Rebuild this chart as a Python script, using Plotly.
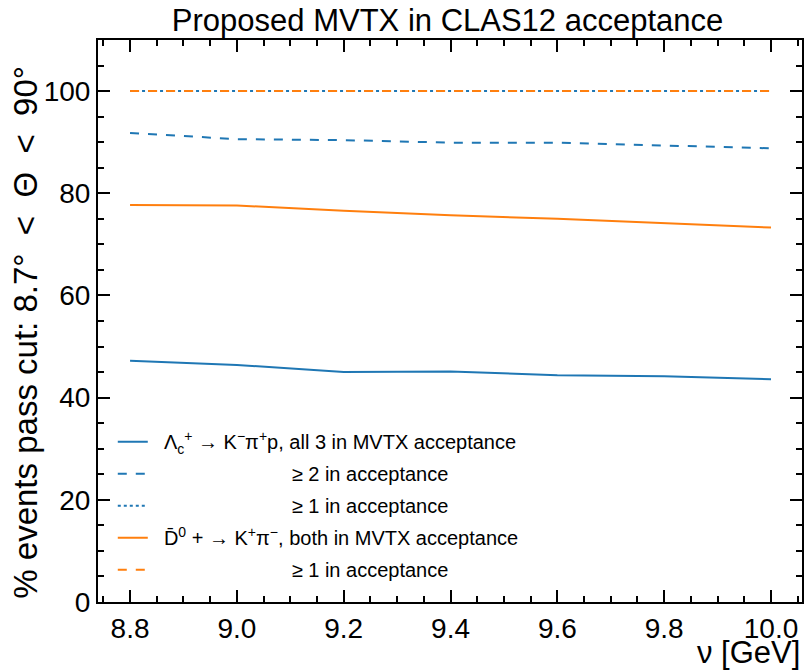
import plotly.graph_objects as go

nu = [8.8, 9.0, 9.2, 9.4, 9.6, 9.8, 10.0]
lc_all3 = [47.2, 46.4, 45.0, 45.1, 44.4, 44.2, 43.6]
lc_ge2 = [91.8, 90.6, 90.4, 89.9, 89.9, 89.4, 88.8]
lc_ge1 = [100.0, 100.0, 100.0, 100.0, 100.0, 100.0, 100.0]
d0_both = [77.7, 77.6, 76.6, 75.7, 75.0, 74.2, 73.3]
d0_ge1 = [100.0, 100.0, 100.0, 100.0, 100.0, 100.0, 100.0]

BLUE = "#1f77b4"
ORANGE = "#ff7f0e"
FONT = "Liberation Sans"
NB = "\u00a0"
lead = NB * 2
pad = NB * 25

names = [
    lead + "Λ<sub>c</sub><sup>+</sup> → K<sup>−</sup>π<sup>+</sup>p, all 3 in MVTX acceptance",
    pad + "≥ 2 in acceptance",
    pad + "≥ 1 in acceptance",
    lead + "D̄<sup>0</sup> + → K<sup>+</sup>π<sup>−</sup>, both in MVTX acceptance",
    pad + "≥ 1 in acceptance",
]
series = [lc_all3, lc_ge2, lc_ge1, d0_both, d0_ge1]
colors = [BLUE, BLUE, BLUE, ORANGE, ORANGE]
dashes = ["solid", "dash", "dot", "solid", "dash"]

fig = go.Figure()
for i, (nm, ys, c, d) in enumerate(zip(names, series, colors, dashes)):
    fig.add_trace(go.Scatter(x=nu, y=ys, mode="lines", name=nm,
                             legendgroup=f"g{i}",
                             line=dict(color=c, width=2, dash=d)))

fig.update_layout(
    width=805, height=671,
    margin=dict(l=98, r=1, t=40, b=69),
    plot_bgcolor="white", paper_bgcolor="white",
    font=dict(family=FONT, size=28, color="black"),
    showlegend=True,
    legend=dict(x=0.021, y=0.32, xanchor="left", yanchor="top",
                bgcolor="rgba(0,0,0,0)", font=dict(size=20),
                tracegroupgap=3),
    title=dict(text="Proposed MVTX in CLAS12 acceptance", x=0.556, xanchor="center",
               y=0.97, yanchor="middle", font=dict(size=31)),
)

fig.update_xaxes(
    range=[8.74, 10.058], tick0=8.8, dtick=0.2, tickformat=".1f",
    ticks="inside", ticklen=12, tickwidth=2, tickcolor="black",
    showline=True, linewidth=2, linecolor="black", mirror="allticks",
    showgrid=False, zeroline=False,
    minor=dict(ticks="inside", ticklen=6, dtick=0.05, tick0=8.8,
               tickcolor="black", tickwidth=1.5, showgrid=False),
    tickfont=dict(size=28),
)
fig.update_yaxes(
    range=[0, 110], tick0=0, dtick=20,
    ticks="inside", ticklen=12, tickwidth=2, tickcolor="black",
    showline=True, linewidth=2, linecolor="black", mirror="allticks",
    showgrid=False, zeroline=False,
    minor=dict(ticks="inside", ticklen=6, dtick=5, tick0=0,
               tickcolor="black", tickwidth=1.5, showgrid=False),
    tickfont=dict(size=28),
)

fig.add_annotation(text="ν [GeV]", xref="paper", yref="paper", x=1.0, y=-0.055,
                   xanchor="right", yanchor="top", showarrow=False,
                   font=dict(size=31))
fig.add_annotation(text="% events pass cut: 8.7°" + NB * 2 + "<" + NB * 2 + "Θ" + NB * 2 + "<" + NB * 2 + "90°",
                   xref="paper", yref="paper",
                   x=-0.103, y=0.48, xanchor="center", yanchor="middle",
                   textangle=-90, showarrow=False, font=dict(size=33))

fig.write_html("out.html")
